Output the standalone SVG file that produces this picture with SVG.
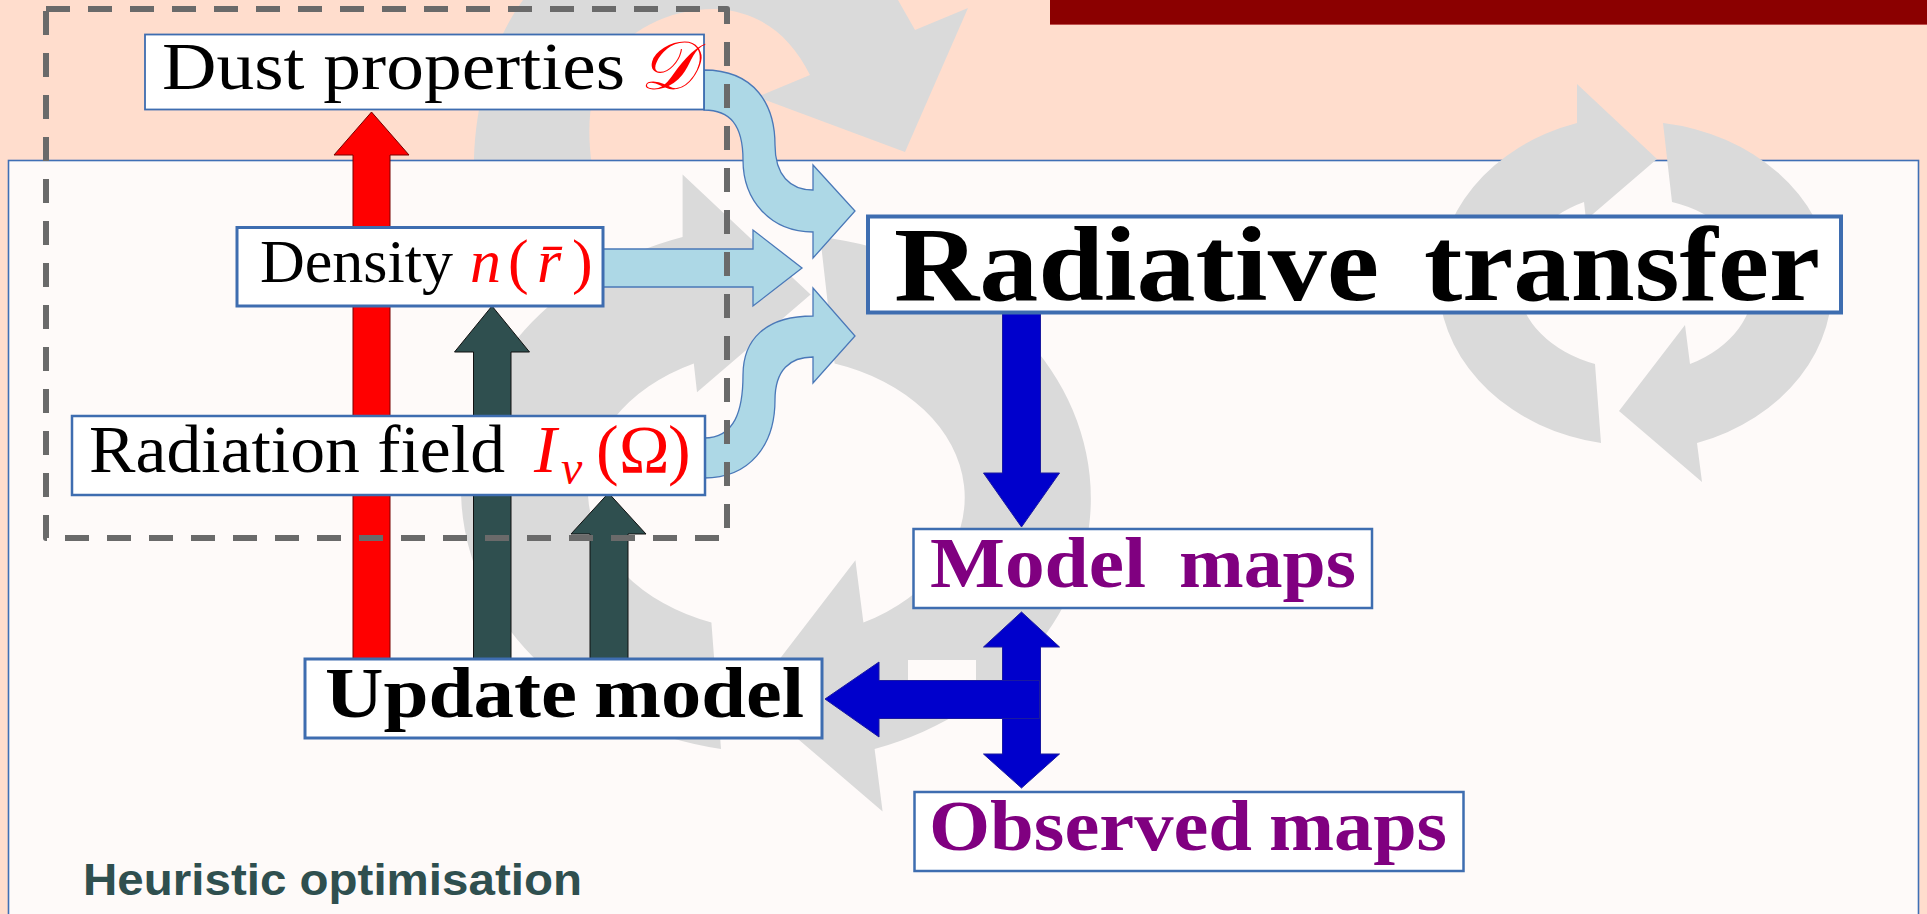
<svg xmlns="http://www.w3.org/2000/svg" width="1927" height="914" viewBox="0 0 1927 914">
<defs>
<style>
.bx{fill:#FFFFFF;stroke:#3E6DB0}
.sr{font-family:"Liberation Serif","Times New Roman",serif}
.bd{font-family:"Liberation Serif","Times New Roman",serif;font-weight:bold}
.it{font-style:italic}
.red{fill:#FF0000}
.pur{fill:#800080}
.gry{fill:#DADADA}
.lb{fill:#ADD8E6;stroke:#4A78B8;stroke-width:1.3}
.bl{fill:#0000CC;stroke:#1A1AA0;stroke-width:1}
.dg{fill:#2F4F4F;stroke:#111;stroke-width:1}
</style>
<path id="cyc" d="M 21,-124 L -50,-63 L -52,-81 A 117,88 0 0,0 -41,81 L -35,160 A 197,165 0 0,1 -59,-160 L -59,-199 Z M -17,128 L 49,42 L 54,81 A 117,88 0 0,0 36,-81 L 27,-160 A 197,165 0 0,1 61,160 L 66,199 Z"/>
</defs>
<rect x="0" y="0" width="1927" height="914" fill="#FFDDCD"/>
<path class="gry" d="M 474,166 C 474,110 490,45 523,0 L 898,0 L 915,30 L 968,8 L 905,152 L 757,97 L 810,75 C 790,35 760,12 717,9 C 670,8 627,30 605,65 C 590,92 586,125 592,166 Z"/>
<rect x="1050" y="0" width="877" height="25" fill="#8B0000"/>
<line x1="1050" y1="24.5" x2="1927" y2="24.5" stroke="#C0504D" stroke-width="1"/>
<rect x="8.5" y="160.5" width="1910" height="770" fill="#FEFAF9" stroke="#3F6FB5" stroke-width="1.6"/>
<use href="#cyc" class="gry" transform="translate(777,493) scale(1.6)"/>
<use href="#cyc" class="gry" transform="translate(1636,283)"/>
<rect x="908" y="660" width="68" height="58" fill="#FEFAF9"/>
<g id="connectors">
<path fill="#FF0000" stroke="#700" stroke-width="1" d="M 353,662 L 353,155 L 334,155 L 371.5,112 L 409,155 L 390,155 L 390,662 Z"/>
<path class="dg" d="M 473.5,662 L 473.5,352 L 454.5,352 L 492,306 L 529.5,352 L 511,352 L 511,662 Z"/>
<path class="dg" d="M 590,662 L 590,534 L 571,534 L 608.5,493 L 646,534 L 628,534 L 628,662 Z"/>
<path class="bl" d="M 1002.5,312 L 1002.5,473 L 983.5,473 L 1021.5,527 L 1059.5,473 L 1040.5,473 L 1040.5,312 Z"/>
<path class="bl" d="M 1021.5,612 L 1059.5,647 L 1040.5,647 L 1040.5,754 L 1059.5,754 L 1021.5,788 L 983.5,754 L 1002.5,754 L 1002.5,647 L 983.5,647 Z"/>
<path class="bl" d="M 825,699 L 879,662 L 879,680.5 L 1039.5,680.5 L 1039.5,718.5 L 879,718.5 L 879,737 Z"/>
<path class="lb" d="M 603,249 L 753,249 L 753,230 L 802,268 L 753,306 L 753,287 L 603,287 Z"/>
<path class="lb" d="M 704,70 C 755,70 775,105 775,145 C 775,175 790,190 813,190 L 813,165 L 855,211 L 813,258 L 813,232 C 770,232 743,200 743,160 C 743,125 730,110 704,110 Z"/>
<path class="lb" d="M 704,438 C 735,438 743,410 743,375 C 743,340 765,316 813,316 L 813,288 L 855,336 L 813,383 L 813,357 C 790,357 775,370 775,400 C 775,445 750,478 704,478 Z"/>
</g>
<g id="dust">
<rect class="bx" x="145" y="34.5" width="559" height="75" stroke-width="1.8" stroke="#5080C0"/>
<text class="sr" x="162" y="89" font-size="68" textLength="463" lengthAdjust="spacingAndGlyphs">Dust properties</text>
<text class="sr it red" x="640" y="89" font-size="68">𝒟</text>
</g>
<g id="density">
<rect class="bx" x="237" y="227.5" width="366" height="78.5" stroke-width="3"/>
<text class="sr" x="260" y="282" font-size="62" textLength="193" lengthAdjust="spacingAndGlyphs">Density</text>
<text class="sr red" y="282" font-size="62"><tspan class="it" x="470">n</tspan><tspan x="508">(</tspan><tspan class="it" x="537">r̄</tspan><tspan x="572">)</tspan></text>
</g>
<g id="radiation">
<rect class="bx" x="72" y="416" width="633" height="79" stroke-width="2.5"/>
<text class="sr" x="89" y="472" font-size="68" textLength="416" lengthAdjust="spacingAndGlyphs">Radiation field</text>
<text class="sr red" y="472" font-size="68"><tspan class="it" x="534">I</tspan><tspan class="it" x="561" y="484" font-size="48">ν</tspan><tspan x="596" y="472">(</tspan><tspan x="619">Ω</tspan><tspan x="668">)</tspan></text>
</g>
<g id="rt">
<rect class="bx" x="868" y="216.5" width="973" height="96" stroke-width="4" stroke="#3A68A8"/>
<text class="bd" x="894" y="300" font-size="106" textLength="485" lengthAdjust="spacingAndGlyphs">Radiative</text>
<text class="bd" x="1424" y="300" font-size="106" textLength="396" lengthAdjust="spacingAndGlyphs">transfer</text>
</g>
<g id="model">
<rect class="bx" x="913.5" y="529" width="458.5" height="79" stroke-width="2.5"/>
<text class="bd pur" x="930" y="587" font-size="71" textLength="216" lengthAdjust="spacingAndGlyphs">Model</text>
<text class="bd pur" x="1179" y="587" font-size="71" textLength="177" lengthAdjust="spacingAndGlyphs">maps</text>
</g>
<g id="observed">
<rect class="bx" x="914.5" y="792" width="549" height="79" stroke-width="2.5"/>
<text class="bd pur" x="929" y="850" font-size="71" textLength="323" lengthAdjust="spacingAndGlyphs">Observed</text>
<text class="bd pur" x="1269" y="850" font-size="71" textLength="178" lengthAdjust="spacingAndGlyphs">maps</text>
</g>
<g id="update">
<rect class="bx" x="305" y="659" width="517" height="79" stroke-width="3"/>
<text class="bd" x="325" y="717" font-size="72" textLength="252" lengthAdjust="spacingAndGlyphs">Update</text>
<text class="bd" x="594" y="717" font-size="72" textLength="210" lengthAdjust="spacingAndGlyphs">model</text>
</g>
<g id="group-box">
<rect x="46" y="9" width="681" height="529" fill="none" stroke="#6A6A6A" stroke-width="6" stroke-dasharray="24 18" stroke-linejoin="round"/>
</g>
<g id="label">
<text x="83" y="895" font-family="Liberation Sans, Arial, sans-serif" font-weight="bold" font-size="45" fill="#2F4F4F" textLength="499" lengthAdjust="spacingAndGlyphs">Heuristic optimisation</text>
</g>
</svg>
